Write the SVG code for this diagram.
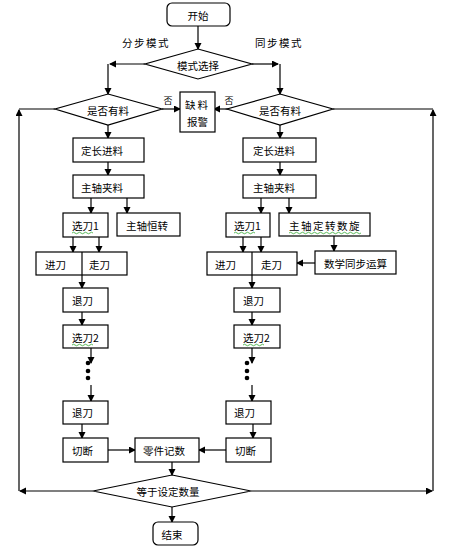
<svg xmlns="http://www.w3.org/2000/svg" width="456" height="547" viewBox="0 0 456 547">
<defs>
<marker id="ah" markerUnits="userSpaceOnUse" markerWidth="8" markerHeight="8" refX="6" refY="3.5" orient="auto">
<path d="M0,0 L7,3.5 L0,7 Z" fill="#000"/>
</marker>
<style>
rect,polygon{fill:#fff;stroke:#000;stroke-width:1.2}
rect.bg{fill:#fff;stroke:none}
.c line,.c path{stroke:#000;stroke-width:1.2;fill:none}
.a{marker-end:url(#ah)}
text{font-family:"Noto Sans CJK SC","Noto Sans",sans-serif;font-size:10.5px;fill:#000;dominant-baseline:central}
.m{text-anchor:middle}
.w{fill:none;stroke:#3a3;stroke-width:0.8}
</style>
</defs>
<rect class="bg" width="456" height="547"/>

<g class="c" id="connectors">
<line class="a" x1="198" y1="26" x2="198" y2="49"/>
<line class="a" x1="145" y1="64" x2="110" y2="64"/>
<line class="a" x1="108" y1="64" x2="108" y2="94"/>
<line class="a" x1="252" y1="64" x2="278" y2="64"/>
<line class="a" x1="280" y1="64" x2="280" y2="94"/>
<line class="a" x1="162" y1="109" x2="180" y2="109"/>
<line class="a" x1="229" y1="109" x2="214" y2="109"/>
<line x1="55" y1="109" x2="19" y2="109"/>
<line class="a" x1="19" y1="491" x2="19" y2="110"/>
<line class="a" x1="93" y1="491" x2="20" y2="491"/>
<line x1="333" y1="109" x2="433" y2="109"/>
<line class="a" x1="433" y1="491" x2="433" y2="110"/>
<line class="a" x1="251" y1="491" x2="432" y2="491"/>
<line class="a" x1="108" y1="125" x2="108" y2="138"/>
<line class="a" x1="280" y1="125" x2="280" y2="138"/>
<line class="a" x1="108" y1="162" x2="108" y2="175"/>
<line class="a" x1="280" y1="162" x2="280" y2="175"/>
<line class="a" x1="91" y1="198" x2="91" y2="213"/>
<line class="a" x1="127" y1="198" x2="127" y2="213"/>
<line class="a" x1="261" y1="198" x2="261" y2="213"/>
<line class="a" x1="289" y1="198" x2="289" y2="213"/>
<line class="a" x1="73" y1="237" x2="73" y2="252"/>
<line class="a" x1="99" y1="237" x2="99" y2="252"/>
<line class="a" x1="243" y1="237" x2="243" y2="252"/>
<line class="a" x1="261" y1="237" x2="261" y2="252"/>
<line class="a" x1="334" y1="236" x2="334" y2="251"/>
<line class="a" x1="315" y1="263" x2="297" y2="263"/>
<line class="a" x1="82" y1="275" x2="82" y2="288"/>
<line class="a" x1="252" y1="275" x2="252" y2="288"/>
<line class="a" x1="82" y1="312" x2="82" y2="325"/>
<line class="a" x1="252" y1="312" x2="252" y2="325"/>
<line class="a" x1="91" y1="348" x2="91" y2="363"/>
<line class="a" x1="91" y1="385" x2="91" y2="401"/>
<line class="a" x1="252" y1="348" x2="252" y2="363"/>
<line class="a" x1="252" y1="385" x2="252" y2="401"/>
<line class="a" x1="82" y1="424" x2="82" y2="438"/>
<line class="a" x1="253" y1="424" x2="253" y2="438"/>
<line class="a" x1="108" y1="450" x2="135" y2="450"/>
<line class="a" x1="226" y1="450" x2="199" y2="450"/>
<line class="a" x1="172" y1="462" x2="172" y2="475"/>
<line class="a" x1="172" y1="507" x2="172" y2="522"/>
<g fill="#000" stroke="none">
<circle cx="88" cy="363" r="2.3"/><circle cx="88" cy="371" r="2.3"/><circle cx="88" cy="378" r="2.3"/>
<circle cx="247" cy="363" r="2.3"/><circle cx="247" cy="371" r="2.3"/><circle cx="247" cy="378" r="2.3"/>
</g>
</g>

<g id="start"><rect x="167" y="3" width="63" height="23" rx="5"/><text class="m" x="198" y="15">开始</text></g>
<g id="lbl-left"><text class="m" x="146" y="42" style="letter-spacing:1.5px">分步模式</text></g>
<g id="lbl-right"><text class="m" x="279" y="42" style="letter-spacing:1.5px">同步模式</text></g>
<g id="mode"><polygon points="198,49 252,64 198,79 145,64"/><text class="m" x="198" y="65">模式选择</text></g>
<g id="check-l"><polygon points="108,94 162,109 108,125 55,109"/><text class="m" x="108" y="110">是否有料</text></g>
<g id="check-r"><polygon points="280,94 333,109 280,125 227,109"/><text class="m" x="280" y="110">是否有料</text></g>
<g id="no-l"><text class="m" x="168" y="100" style="font-size:9px">否</text></g>
<g id="no-r"><text class="m" x="229" y="100" style="font-size:9px">否</text></g>
<g id="alarm"><rect x="180" y="92" width="35" height="40"/><text class="m" x="197.5" y="104" style="letter-spacing:2px">缺料</text><text class="m" x="197.5" y="121">报警</text></g>

<g id="feed-l"><rect x="73" y="138" width="71" height="24"/><text x="81" y="150">定长进料</text></g>
<g id="clamp-l"><rect x="73" y="175" width="71" height="23"/><text x="81" y="187">主轴夹料</text></g>
<g id="tool1-l"><rect x="63" y="213" width="45" height="24"/><text x="72" y="225">选刀1</text><path class="w" d="M72,233 q1.5,-1.5 3,0 t3,0 t3,0 t3,0 t3,0 t3,0 t3,0"/></g>
<g id="spin-l"><rect x="117" y="213" width="63" height="23"/><text x="126" y="225">主轴恒转</text></g>
<g id="feedcut-l"><rect x="36" y="252" width="91" height="23"/><line x1="82" y1="252" x2="82" y2="275" stroke="#000" stroke-width="1.2"/><text x="45" y="264">进刀</text><text x="89" y="264">走刀</text></g>
<g id="retract1-l"><rect x="63" y="288" width="45" height="24"/><text x="72" y="300">退刀</text></g>
<g id="tool2-l"><rect x="63" y="325" width="45" height="23"/><text x="72" y="337">选刀2</text><path class="w" d="M72,345 q1.5,-1.5 3,0 t3,0 t3,0 t3,0 t3,0 t3,0 t3,0"/></g>
<g id="retract2-l"><rect x="63" y="401" width="45" height="23"/><text x="72" y="412">退刀</text></g>
<g id="cut-l"><rect x="63" y="438" width="45" height="24"/><text x="72" y="450">切断</text></g>

<g id="feed-r"><rect x="243" y="138" width="73" height="24"/><text x="253" y="150">定长进料</text></g>
<g id="clamp-r"><rect x="243" y="175" width="73" height="23"/><text x="253" y="187">主轴夹料</text></g>
<g id="tool1-r"><rect x="226" y="213" width="44" height="24"/><text x="234" y="225">选刀1</text><path class="w" d="M234,233 q1.5,-1.5 3,0 t3,0 t3,0 t3,0 t3,0 t3,0 t3,0"/></g>
<g id="spin-r"><rect x="279" y="213" width="91" height="23"/><text x="289" y="225" style="letter-spacing:1.5px">主轴定转数旋</text><path class="w" d="M289,233 q1.5,-1.5 3,0 t3,0 t3,0 t3,0 t3,0 t3,0 t3,0 t3,0 t3,0 t3,0 t3,0 t3,0 t3,0 t3,0 t3,0 t3,0 t3,0 t3,0 t3,0 t3,0 t3,0 t3,0 t3,0 t3,0"/></g>
<g id="sync"><rect x="315" y="251" width="81" height="23"/><text x="324" y="263">数学同步运算</text></g>
<g id="feedcut-r"><rect x="207" y="252" width="90" height="23"/><line x1="252" y1="252" x2="252" y2="275" stroke="#000" stroke-width="1.2"/><text x="215" y="264">进刀</text><text x="261" y="264">走刀</text></g>
<g id="retract1-r"><rect x="234" y="288" width="46" height="24"/><text x="243" y="300">退刀</text></g>
<g id="tool2-r"><rect x="234" y="325" width="46" height="23"/><text x="243" y="337">选刀2</text><path class="w" d="M243,345 q1.5,-1.5 3,0 t3,0 t3,0 t3,0 t3,0 t3,0 t3,0"/></g>
<g id="retract2-r"><rect x="226" y="401" width="45" height="23"/><text x="234" y="412">退刀</text></g>
<g id="cut-r"><rect x="226" y="438" width="45" height="24"/><text x="235" y="450">切断</text></g>

<g id="count"><rect x="135" y="438" width="64" height="24"/><text x="143" y="450">零件记数</text></g>
<g id="equal"><polygon points="172,475 251,491 172,507 93,491"/><text class="m" x="168" y="491">等于设定数量</text></g>
<g id="end"><rect x="153" y="522" width="45" height="23" rx="5"/><text class="m" x="172" y="534">结束</text></g>
</svg>
